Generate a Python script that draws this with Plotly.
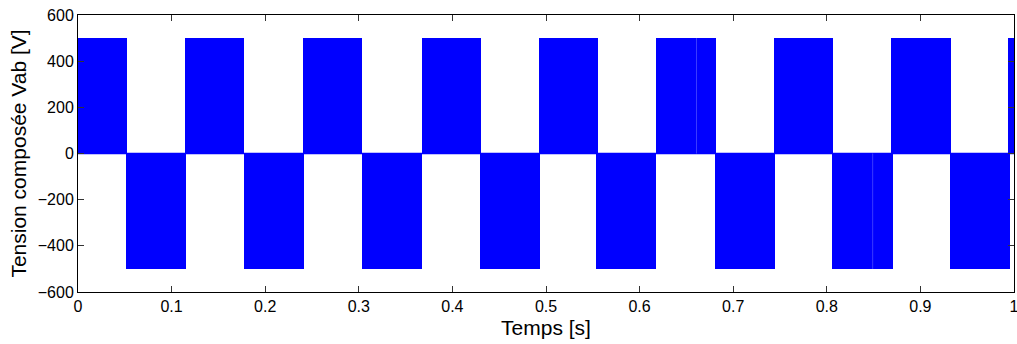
import plotly.graph_objects as go

# PWM line-voltage blocks (time in s, level in V)
pos_start = [0.0, 0.1142, 0.2400, 0.3670, 0.4924, 0.6180, 0.7432, 0.8689, 0.9941]
pos_end = [0.0525, 0.1777, 0.3037, 0.4305, 0.5557, 0.6817, 0.8066, 0.9330, 1.0]
pos_level = [500, 500, 500, 500, 500, 500, 500, 500, 500]

neg_start = [0.0508, 0.1777, 0.3029, 0.4294, 0.5539, 0.6802, 0.8056, 0.9319]
neg_end = [0.1150, 0.2418, 0.3670, 0.4935, 0.6180, 0.7443, 0.8707, 0.9956]
neg_level = [-500, -500, -500, -500, -500, -500, -500, -500]

# faint internal switching glitches
glitch_t = [0.6608, 0.8490]
glitch_level = [500, -500]

x_ticks = [0, 0.1, 0.2, 0.3, 0.4, 0.5, 0.6, 0.7, 0.8, 0.9, 1]
y_ticks = [-600, -400, -200, 0, 200, 400, 600]

BLUE = "#0000ff"
FONT = "Liberation Sans, Arial"

fig = go.Figure()
for st, en, lv in ((pos_start, pos_end, pos_level), (neg_start, neg_end, neg_level)):
    fig.add_trace(go.Bar(
        x=st, y=lv, width=[e - s for s, e in zip(st, en)], offset=0, base=0,
        marker=dict(color=BLUE, line=dict(width=0)), showlegend=False,
    ))

fig.add_trace(go.Scatter(x=[0, 1], y=[0, 0], mode="lines",
                         line=dict(color=BLUE, width=1.5), showlegend=False))

gx, gy = [], []
for t, lv in zip(glitch_t, glitch_level):
    gx += [t, t, None]
    gy += [0, lv, None]
fig.add_trace(go.Scatter(x=gx, y=gy, mode="lines",
                         line=dict(color="#3a3aff", width=1), showlegend=False))

axis_common = dict(
    showgrid=False, zeroline=False, showline=True, linecolor="black", linewidth=1,
    mirror="ticks", ticks="inside", ticklen=6, tickcolor="#333333",
    ticklabeloverflow="allow",
    tickfont=dict(family=FONT, size=16, color="black"),
)
fig.update_xaxes(range=[0, 1], tickvals=x_ticks,
                 ticktext=[f"{v:g}" for v in x_ticks],
                 title=dict(text="Temps [s]", standoff=6,
                            font=dict(family=FONT, size=21, color="black")),
                 **axis_common)
fig.update_yaxes(range=[-600, 600], tickvals=y_ticks,
                 title=dict(text="Tension composée Vab [V]", standoff=5,
                            font=dict(family=FONT, size=21, color="black")),
                 **axis_common)

fig.update_layout(
    width=1017, height=344,
    margin=dict(l=78, r=3, t=15, b=52, autoexpand=False),
    plot_bgcolor="white", paper_bgcolor="white",
    barmode="overlay", bargap=0,
)

fig.write_html("out.html", config={"displayModeBar": False},
               post_script="document.body.style.margin='0';")
